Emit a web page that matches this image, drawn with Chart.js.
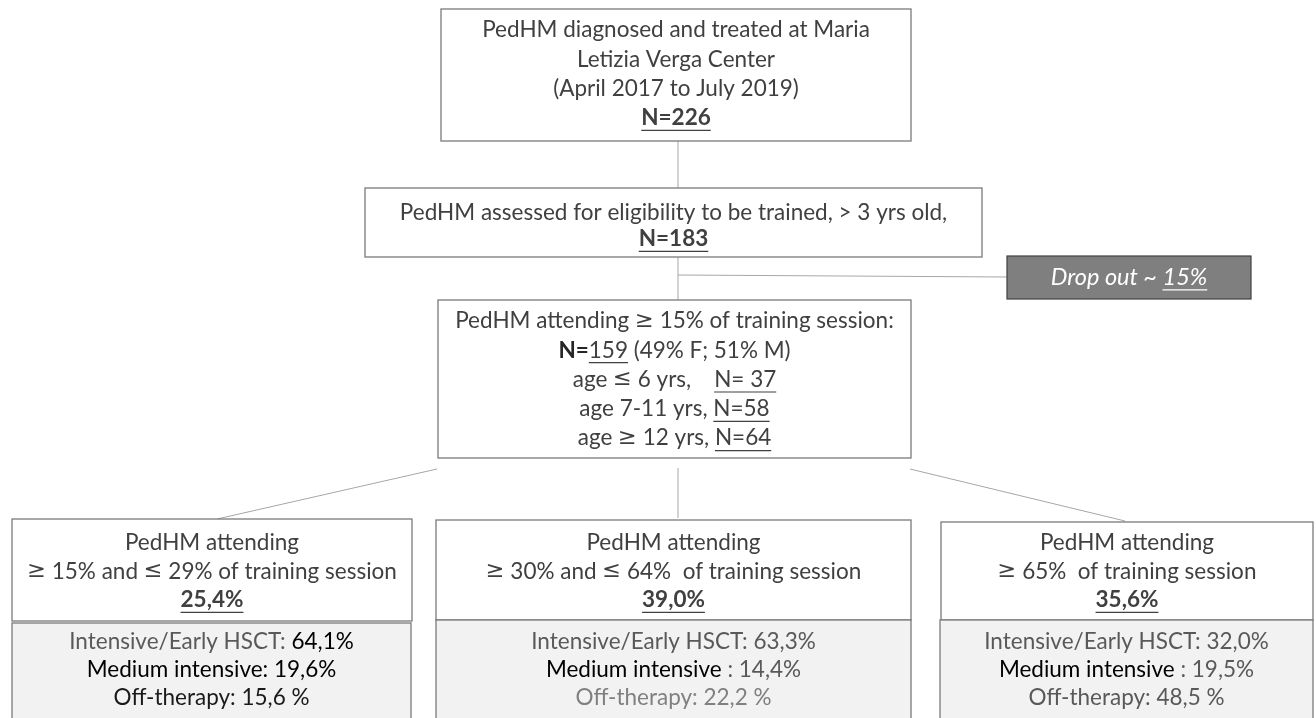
<!DOCTYPE html>
<html>
<head>
<meta charset="utf-8">
<script src="https://cdn.jsdelivr.net/npm/chart.js@4.4.1/dist/chart.umd.min.js"></script>
<style>
  html, body { margin: 0; padding: 0; background: #fff; }
  #wrap { width: 1316px; height: 718px; }
</style>
</head>
<body>
<div id="wrap"><canvas id="flowChart"></canvas></div>
<script>
// --- data ---
const totalDiagnosed = 226;
const assessedN = 183;
const attendingN = 159;
const sexSplit = [49, 51];               // % F, % M
const ageLabels = ['age \u2264 6 yrs,    ', 'age 7-11 yrs, ', 'age \u2265 12 yrs, '];
const ageCounts = [37, 58, 64];
const dropoutPct = 15;
const attendanceRanges = [
    '\u2265 15% and \u2264 29% of training session',
    '\u2265 30% and \u2264 64%  of training session',
    '\u2265 65%  of training session'
];
const attendanceShare = [25.4, 39.0, 35.6];
const intensiveEarly = [64.1, 63.3, 32.0];
const mediumIntensive = [19.6, 14.4, 19.5];
const offTherapy = [15.6, 22.2, 48.5];

const FONT = 'Lato, "Open Sans", sans-serif';
const MATH_FONT = '"DejaVu Sans", sans-serif';
const TXT = '#404040';
const SIZE = 22.5;
const fmt = (v) => v.toFixed(1).replace('.', ',');

// text segment helper
const s = (t, opts = {}) => Object.assign({ t: t, c: TXT }, opts);

// --- layout (diagram units == pixels on the hidden axes) ---
const boxes = [
    { x: 441, y: 9, w: 470, h: 132, y0: 30, step: 29.3,
      lines: [
          [s('PedHM diagnosed and treated at Maria')],
          [s('Letizia Verga Center')],
          [s('(April 2017 to July 2019)')],
          [s('N=' + totalDiagnosed, { b: true, u: true })]
      ] },
    { x: 365, y: 188, w: 617, h: 69, y0: 213, step: 26,
      lines: [
          [s('PedHM assessed for eligibility to be trained, > 3 yrs old,')],
          [s('N=' + assessedN, { b: true, u: true })]
      ] },
    { x: 438, y: 300, w: 473, h: 158, y0: 321, step: 29.3,
      lines: [
          [s('PedHM attending \u2265 15% of training session:')],
          [s('N=', { b: true, c: '#262626' }), s(String(attendingN), { u: true }),
           s(' (' + sexSplit[0] + '% F; ' + sexSplit[1] + '% M)')],
          [s(ageLabels[0]), s('N= ' + ageCounts[0], { u: true })],
          [s(ageLabels[1]), s('N=' + ageCounts[1], { u: true })],
          [s(ageLabels[2]), s('N=' + ageCounts[2], { u: true })]
      ] }
];

const groupBoxes = [
    { x: 12, y: 519, w: 400, h: 102 },
    { x: 436, y: 520, w: 475, h: 100 },
    { x: 941, y: 522, w: 372, h: 98 }
];
const groupTherapyBoxes = [
    { x: 12, y: 623, w: 399, h: 110 },
    { x: 436, y: 620, w: 475, h: 110 },
    { x: 940, y: 620, w: 373, h: 110 }
];

attendanceRanges.forEach((range, i) => {
    const b = groupBoxes[i];
    b.y0 = 543; b.step = 28.5;
    b.lines = [
        [s('PedHM attending')],
        [s(range)],
        [s(fmt(attendanceShare[i]) + '%', { b: true, u: true })]
    ];
    boxes.push(b);

    const g = groupTherapyBoxes[i];
    g.fill = '#f2f2f2';
    g.y0 = 642; g.step = 28;
    if (i === 0) {
        g.lines = [
            [s('Intensive/Early HSCT: ', { c: '#595959' }), s(fmt(intensiveEarly[i]) + '%', { c: '#000' })],
            [s('Medium intensive: ' + fmt(mediumIntensive[i]) + '%', { c: '#000' })],
            [s('Off-therapy: ' + fmt(offTherapy[i]) + ' %', { c: '#1a1a1a' })]
        ];
    } else {
        g.lines = [
            [s('Intensive/Early HSCT: ' + fmt(intensiveEarly[i]) + '%', { c: '#595959' })],
            [s('Medium intensive', { c: '#000' }), s(' : ' + fmt(mediumIntensive[i]) + '%', { c: '#595959' })],
            [s('Off-therapy: ' + fmt(offTherapy[i]) + ' %', { c: i === 1 ? '#808080' : '#595959' })]
        ];
    }
    boxes.push(g);
});

const dropoutBox = { x: 1007, y: 256, w: 244, h: 43, cy: 277 };

const connectors = [
    [678, 141, 678, 188],
    [678, 257, 678, 300],
    [678, 275, 1007, 277],
    [437, 469, 217, 519],
    [678, 468, 678, 518],
    [910, 469, 1125, 521]
];

// split off the ≤ / ≥ signs so they can use a font with larger math glyphs
function splitMath(segs) {
    const out = [];
    segs.forEach(g => {
        g.t.split(/([\u2264\u2265])/).forEach(part => {
            if (!part) return;
            out.push(Object.assign({}, g, { t: part, m: /^[\u2264\u2265]$/.test(part) }));
        });
    });
    return out;
}

function drawLine(ctx, cx, cy, segs, size) {
    const fontOf = (g) => (g.i ? 'italic ' : '') + (g.b ? 'bold ' : '') + size + 'px ' + (g.m ? MATH_FONT : FONT);
    const parts = splitMath(segs);
    let total = 0;
    parts.forEach(g => { ctx.font = fontOf(g); g.w = ctx.measureText(g.t).width; total += g.w; });
    let x = cx - total / 2;
    ctx.textBaseline = 'middle';
    ctx.textAlign = 'left';
    parts.forEach(g => {
        ctx.font = fontOf(g);
        ctx.fillStyle = g.c;
        ctx.fillText(g.t, x, cy);
        if (g.u) {
            const lead = g.t.length - g.t.trimStart().length;
            const off = lead ? ctx.measureText(g.t.slice(0, lead)).width : 0;
            ctx.strokeStyle = g.c;
            ctx.lineWidth = 1.2;
            ctx.beginPath();
            ctx.moveTo(x + off, cy + size * 0.55);
            ctx.lineTo(x + g.w, cy + size * 0.55);
            ctx.stroke();
        }
        x += g.w;
    });
}

const flowPlugin = {
    id: 'flowDiagram',
    afterDraw(chart) {
        const ctx = chart.ctx;
        const sx = chart.scales.x, sy = chart.scales.y;
        const px = (v) => sx.getPixelForValue(v);
        const py = (v) => sy.getPixelForValue(v);
        ctx.save();

        // connectors
        ctx.strokeStyle = '#a6a6a6';
        ctx.lineWidth = 1;
        connectors.forEach(([x1, y1, x2, y2]) => {
            ctx.beginPath();
            ctx.moveTo(px(x1), py(y1));
            ctx.lineTo(px(x2), py(y2));
            ctx.stroke();
        });

        // boxes
        boxes.forEach(b => {
            const x = px(b.x), y = py(b.y), w = px(b.x + b.w) - x, h = py(b.y + b.h) - y;
            ctx.fillStyle = b.fill || '#ffffff';
            ctx.fillRect(x, y, w, h);
            ctx.strokeStyle = '#7a7a7a';
            ctx.lineWidth = 1.3;
            ctx.strokeRect(x, y, w, h);
            b.lines.forEach((segs, k) => {
                drawLine(ctx, px(b.x + b.w / 2), py(b.y0 + k * b.step), segs, SIZE);
            });
        });

        // drop-out box
        const d = dropoutBox;
        const dx = px(d.x), dy = py(d.y), dw = px(d.x + d.w) - dx, dh = py(d.y + d.h) - dy;
        ctx.fillStyle = '#7f7f7f';
        ctx.fillRect(dx, dy, dw, dh);
        ctx.strokeStyle = '#404040';
        ctx.lineWidth = 1.2;
        ctx.strokeRect(dx, dy, dw, dh);
        drawLine(ctx, px(d.x + d.w / 2), py(d.cy), [
            s('Drop out ~ ', { i: true, c: '#ffffff' }),
            s(dropoutPct + '%', { i: true, u: true, c: '#ffffff' })
        ], 23.5);

        ctx.restore();
    }
};

new Chart(document.getElementById('flowChart'), {
    type: 'scatter',
    data: { datasets: [{ data: [], pointRadius: 0 }] },
    options: {
        responsive: true,
        maintainAspectRatio: false,
        animation: false,
        layout: { padding: 0 },
        plugins: { legend: { display: false }, tooltip: { enabled: false } },
        scales: {
            x: { type: 'linear', min: 0, max: 1316, display: false },
            y: { type: 'linear', min: 0, max: 718, reverse: true, display: false }
        }
    },
    plugins: [flowPlugin]
});
</script>
</body>
</html>
